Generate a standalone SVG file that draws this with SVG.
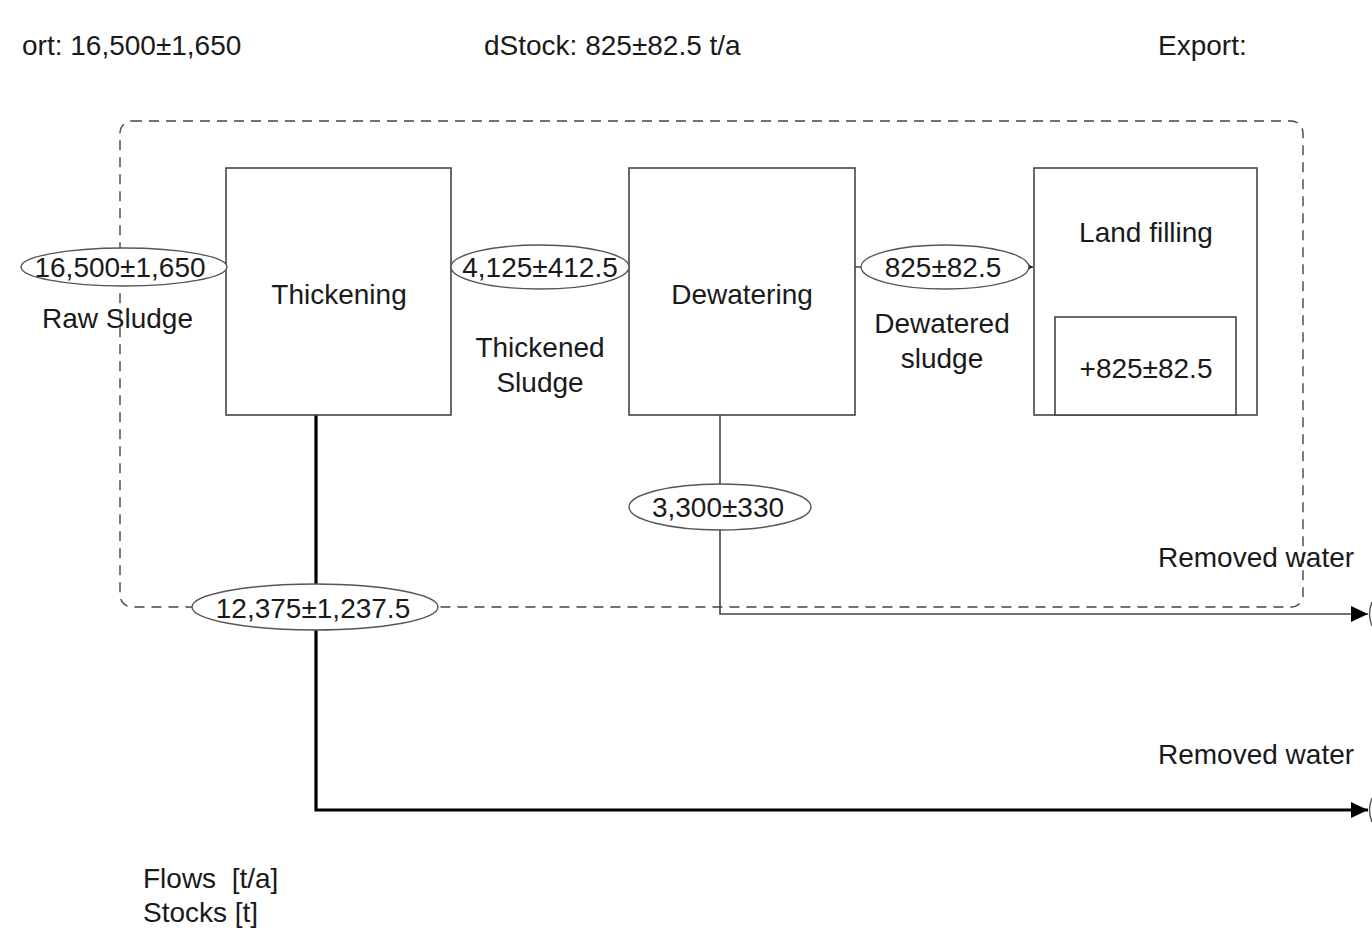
<svg xmlns="http://www.w3.org/2000/svg" width="1372" height="929" viewBox="0 0 1372 929">
<style>
text{font-family:"Liberation Sans",Arial,sans-serif;font-size:28px;fill:#1a1a1a}
.mid{text-anchor:middle}
.box{fill:#fff;stroke:#444;stroke-width:1.6}
.ell{fill:#fff;stroke:#555;stroke-width:1.4}
.thin{fill:none;stroke:#444;stroke-width:1.6}
.thick{fill:none;stroke:#000;stroke-width:3.2}
.dash{fill:none;stroke:#444;stroke-width:1.4;stroke-dasharray:10 7}
</style>
<defs>
<marker id="arr" markerWidth="18" markerHeight="16" refX="17" refY="8" orient="auto" markerUnits="userSpaceOnUse"><path d="M0,0 L17,8 L0,16 Z" fill="#000"/></marker>
<marker id="arrs" markerWidth="6" markerHeight="6" refX="5" refY="3" orient="auto" markerUnits="userSpaceOnUse"><path d="M0,0 L5,3 L0,6 Z" fill="#222"/></marker>
</defs>
<g id="header">
<text x="22" y="55">ort: 16,500±1,650</text>
<text x="484" y="55">dStock: 825±82.5 t/a</text>
<text x="1158" y="55">Export:</text>
</g>
<g id="boundary"><rect class="dash" x="120" y="121" width="1183" height="486" rx="12"/></g>
<g id="connectors">
<line class="thin" x1="855" y1="267" x2="1033" y2="267" marker-end="url(#arrs)"/>
<line class="thin" x1="451" y1="267" x2="629" y2="267"/>
<path class="thin" d="M720,415 V614 H1368" marker-end="url(#arr)"/>
<path class="thick" d="M316,415 V810 H1368" marker-end="url(#arr)"/>
<path fill="none" stroke="#555" stroke-width="1.4" d="M1372,602 Q1367,614 1372,626"/>
<path fill="none" stroke="#555" stroke-width="1.4" d="M1372,798 Q1367,810 1372,822"/>
</g>
<g id="thickening"><rect class="box" x="226" y="168" width="225" height="247"/><text class="mid" x="339" y="304">Thickening</text></g>
<g id="dewatering"><rect class="box" x="629" y="168" width="226" height="247"/><text class="mid" x="742" y="304">Dewatering</text></g>
<g id="landfilling"><rect class="box" x="1034" y="168" width="223" height="247"/><text class="mid" x="1146" y="242">Land filling</text>
<rect class="box" x="1055" y="317" width="181" height="98"/><text class="mid" x="1146" y="378">+825±82.5</text></g>
<g id="flow-raw"><ellipse class="ell" cx="124" cy="267" rx="103" ry="19"/><text class="mid" x="120" y="277">16,500±1,650</text><text x="42" y="328">Raw Sludge</text></g>
<g id="flow-thickened"><ellipse class="ell" cx="540" cy="267" rx="89" ry="22"/><text class="mid" x="540" y="277">4,125±412.5</text><text class="mid" x="540" y="357">Thickened</text><text class="mid" x="540" y="392">Sludge</text></g>
<g id="flow-dewatered"><ellipse class="ell" cx="945" cy="267" rx="84" ry="22"/><text class="mid" x="943" y="277">825±82.5</text><text class="mid" x="942" y="333">Dewatered</text><text class="mid" x="942" y="368">sludge</text></g>
<g id="flow-water2"><ellipse class="ell" cx="720" cy="507" rx="91" ry="23"/><text class="mid" x="718" y="517">3,300±330</text></g>
<g id="flow-water1"><ellipse class="ell" cx="315" cy="607" rx="123" ry="23"/><text class="mid" x="313" y="618">12,375±1,237.5</text></g>
<g id="labels">
<text x="1158" y="567">Removed water</text>
<text x="1158" y="764">Removed water</text>
<text x="143" y="888" xml:space="preserve" style="white-space:pre">Flows  [t/a]</text>
<text x="143" y="922">Stocks [t]</text>
</g>
</svg>
